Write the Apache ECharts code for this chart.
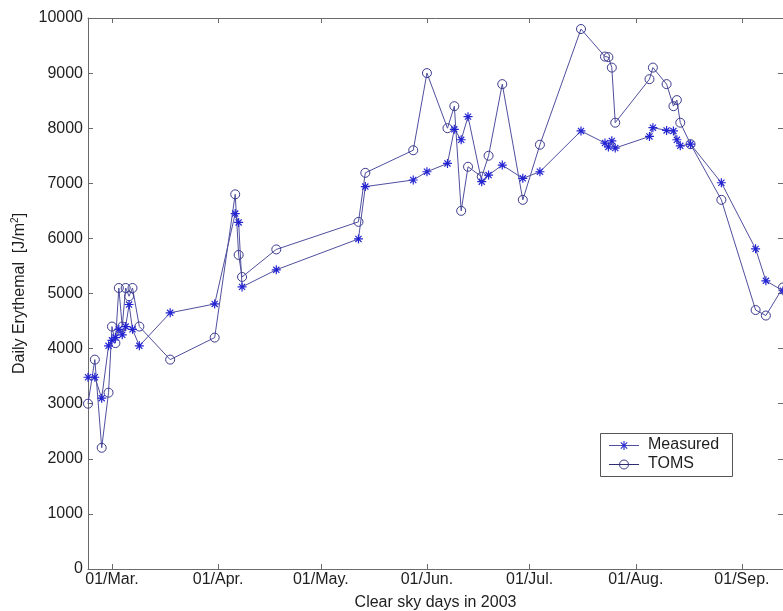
<!DOCTYPE html>
<html>
<head>
<meta charset="utf-8">
<script src="https://cdn.jsdelivr.net/npm/echarts@6/dist/echarts.min.js"></script>
<style>html,body{margin:0;padding:0;background:#fff;}#c{width:783px;height:611px;}</style>
</head>
<body>
<div id="c"></div>
<script>
// Day of year 2003 for each clear-sky day
const days = [53,55,57,59,60,61,62,63,64,65,66,68,77,90,96,97,98,108,132,134,148,152,158,160,162,164,168,170,174,180,185,197,204,205,206,207,217,218,222,224,225,226,229,238,248,251,256];
const measured = [3480,3480,3100,4050,4150,4200,4350,4250,4400,4800,4350,4050,4650,4810,6450,6290,5120,5430,5990,6940,7060,7210,7360,7980,7790,8210,7030,7150,7330,7090,7210,7950,7730,7660,7770,7640,7850,8010,7960,7950,7790,7680,7710,7010,5810,5230,5050];
const toms = [3000,3800,2200,3200,4400,4100,5100,4400,5100,4950,5100,4400,3800,4200,6800,5700,5300,5800,6300,7190,7600,9000,8000,8400,6500,7300,7120,7500,8800,6700,7700,9800,9300,9290,9100,8100,8890,9100,8800,8400,8510,8100,7710,6700,4700,4600,5110];
const tickDays = [60,91,121,152,182,213,244];
const tickLabels = ['01/Mar.','01/Apr.','01/May.','01/Jun.','01/Jul.','01/Aug.','01/Sep.'];
const seriesNames = ['Measured','TOMS'];

const font = 'Liberation Sans, Arial, sans-serif';
const axisColor = '#6a6a6a';
const textColor = '#1e1e1e';
const lineColor = '#4f4f9e';
const starColor = '#2424d2';
const circColor = '#3a3a8e';
const starPath = 'path://M5,0L5,10M0,5L10,5M1.6,1.6L8.4,8.4M8.4,1.6L1.6,8.4';

const labelMap = {};
tickDays.forEach((d, i) => { labelMap[d] = tickLabels[i]; });

const chart = echarts.init(document.getElementById('c'), null, {renderer: 'canvas'});
const xCommon = {
  type: 'value', min: 53, max: 256,
  axisLine: {show: true, onZero: false, lineStyle: {color: axisColor, width: 1}},
  axisTick: {show: true, inside: true, length: 5, customValues: tickDays, lineStyle: {color: axisColor}},
  splitLine: {show: false}
};
const yCommon = {
  type: 'value', min: 0, max: 10000, interval: 1000,
  axisLine: {show: true, onZero: false, lineStyle: {color: axisColor, width: 1}},
  axisTick: {show: true, inside: true, length: 5, lineStyle: {color: axisColor}},
  splitLine: {show: false}
};

// legend drawn as graphic elements (box, sample lines, markers, text)
const lgX = 600, lgY = 433, lgW = 132, lgH = 43;
const rows = [lgY + 12, lgY + 31];
const legendGraphic = [
  {type: 'rect', shape: {x: lgX + 0.5, y: lgY + 0.5, width: lgW, height: lgH},
   style: {fill: '#fff', stroke: '#555', lineWidth: 1}, z: 10},
];
seriesNames.forEach((n, i) => {
  const y = rows[i] + 0.5;
  legendGraphic.push({type: 'line', shape: {x1: lgX + 9, y1: y, x2: lgX + 39, y2: y},
    style: {stroke: i === 0 ? lineColor : '#2c2c6e', lineWidth: 1}, z: 11});
  if (i === 0) {
    const cx = lgX + 24, cy = y, r = 4.5, d = 3.2;
    legendGraphic.push({type: 'line', shape: {x1: cx, y1: cy - r, x2: cx, y2: cy + r}, style: {stroke: starColor, lineWidth: 1.1}, z: 12});
    legendGraphic.push({type: 'line', shape: {x1: cx - d, y1: cy - d, x2: cx + d, y2: cy + d}, style: {stroke: starColor, lineWidth: 1.1}, z: 12});
    legendGraphic.push({type: 'line', shape: {x1: cx + d, y1: cy - d, x2: cx - d, y2: cy + d}, style: {stroke: starColor, lineWidth: 1.1}, z: 12});
  } else {
    legendGraphic.push({type: 'circle', shape: {cx: lgX + 24, cy: y, r: 4.5}, style: {fill: 'rgba(0,0,0,0)', stroke: circColor, lineWidth: 1}, z: 12});
  }
  legendGraphic.push({type: 'text', x: lgX + 48, y: rows[i], style: {text: n, fontFamily: font, fontSize: 16, fill: textColor, verticalAlign: 'middle'}, z: 12});
});

chart.setOption({
  animation: false,
  backgroundColor: '#fff',
  grid: {left: 88, right: 0, top: 18, bottom: 42, containLabel: false, outerBoundsMode: 'none'},
  xAxis: [
    Object.assign({}, xCommon, {
      position: 'bottom',
      name: 'Clear sky days in 2003', nameLocation: 'middle', nameGap: 26,
      nameTextStyle: {fontFamily: font, fontSize: 16, color: textColor},
      axisLabel: {show: true, customValues: tickDays, margin: 3,
        formatter: v => labelMap[v] || '', fontFamily: font, fontSize: 16, color: textColor}
    }),
    Object.assign({}, xCommon, {position: 'top', axisLabel: {show: false}})
  ],
  yAxis: [
    Object.assign({}, yCommon, {
      position: 'left',
      name: 'Daily Erythemal  [J/m{sup|2}]', nameLocation: 'middle', nameGap: 55,
      nameTextStyle: {fontFamily: font, fontSize: 16, color: textColor,
        rich: {sup: {fontFamily: font, fontSize: 10, color: textColor, verticalAlign: 'bottom', padding: [0,0,8,0]}}},
      axisLabel: {show: true, margin: 5, formatter: v => String(v), fontFamily: font, fontSize: 16, color: textColor}
    }),
    Object.assign({}, yCommon, {position: 'right', axisLine: {show: false, onZero: false}, axisLabel: {show: false}})
  ],
  graphic: legendGraphic,
  series: [
    {
      name: seriesNames[0], type: 'line', xAxisIndex: 0, yAxisIndex: 0,
      data: days.map((d, i) => [d, measured[i]]),
      symbol: starPath, symbolSize: 9, showSymbol: true,
      lineStyle: {color: lineColor, width: 1},
      itemStyle: {color: 'rgba(0,0,0,0)', borderColor: starColor, borderWidth: 1.2},
      emphasis: {disabled: true}, z: 3
    },
    {
      name: seriesNames[1], type: 'line', xAxisIndex: 0, yAxisIndex: 0,
      data: days.map((d, i) => [d, toms[i]]),
      symbol: 'circle', symbolSize: 9, showSymbol: true,
      lineStyle: {color: lineColor, width: 1},
      itemStyle: {color: 'rgba(0,0,0,0)', borderColor: circColor, borderWidth: 1},
      emphasis: {disabled: true}, z: 2
    }
  ]
});
</script>
</body>
</html>
